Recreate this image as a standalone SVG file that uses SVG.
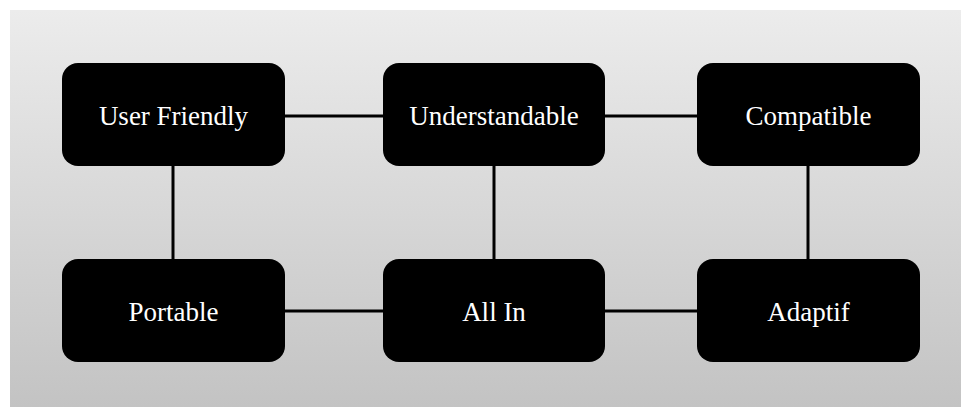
<svg xmlns="http://www.w3.org/2000/svg" width="961" height="407" viewBox="0 0 961 407">
<defs>
<linearGradient id="bg" x1="0" y1="0" x2="0" y2="1">
<stop offset="0" stop-color="#ececec"/>
<stop offset="1" stop-color="#c3c3c3"/>
</linearGradient>
</defs>
<style>
.node rect{fill:#000;}
.node text{fill:#fff;font-family:"Liberation Serif","Times New Roman",serif;font-size:27px;text-anchor:middle;}
.conn line{stroke:#000;stroke-width:3;}
</style>
<rect x="0" y="0" width="961" height="407" fill="#fff"/>
<rect x="10" y="10" width="951" height="397" fill="url(#bg)"/>
<g class="conn" id="connectors">
<line x1="285" y1="116" x2="383" y2="116"/>
<line x1="605" y1="116" x2="697" y2="116"/>
<line x1="285" y1="311" x2="383" y2="311"/>
<line x1="605" y1="311" x2="697" y2="311"/>
<line x1="173" y1="166" x2="173" y2="259"/>
<line x1="494" y1="166" x2="494" y2="259"/>
<line x1="808" y1="166" x2="808" y2="259"/>
</g>
<g class="node" id="user-friendly"><rect x="62" y="63" width="223" height="103" rx="16"/><text x="173.5" y="125">User Friendly</text></g>
<g class="node" id="understandable"><rect x="383" y="63" width="222" height="103" rx="16"/><text x="494" y="125">Understandable</text></g>
<g class="node" id="compatible"><rect x="697" y="63" width="223" height="103" rx="16"/><text x="808.5" y="125">Compatible</text></g>
<g class="node" id="portable"><rect x="62" y="259" width="223" height="103" rx="16"/><text x="173.5" y="321">Portable</text></g>
<g class="node" id="all-in"><rect x="383" y="259" width="222" height="103" rx="16"/><text x="494" y="321">All In</text></g>
<g class="node" id="adaptif"><rect x="697" y="259" width="223" height="103" rx="16"/><text x="808.5" y="321">Adaptif</text></g>
</svg>
